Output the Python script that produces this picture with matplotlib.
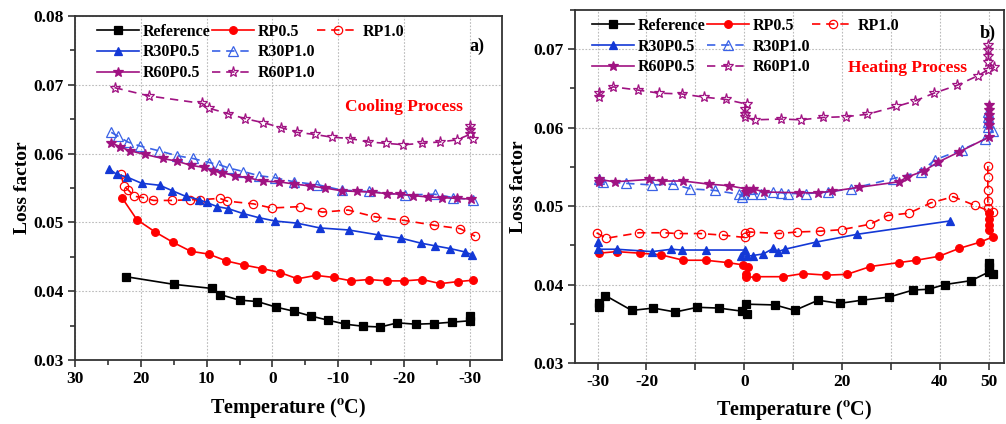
import matplotlib
matplotlib.use("Agg")
import matplotlib.pyplot as plt
from matplotlib.lines import Line2D
from matplotlib.ticker import MultipleLocator

# ---- data: cooling process (panel a) ----
cool_ref_T = [22.2, 15.0, 9.2, 7.9, 5.0, 2.3, -0.5, -3.2, -5.8, -8.4, -11.1, -13.8, -16.4, -19.0, -21.8, -24.6, -27.3, -30.0, -30.0]
cool_ref = [0.0421, 0.0410, 0.0404, 0.0395, 0.0387, 0.0385, 0.0377, 0.0371, 0.0364, 0.0358, 0.0352, 0.0349, 0.0348, 0.0354, 0.0352, 0.0353, 0.0355, 0.0357, 0.0364]

cool_rp05_T = [22.8, 20.6, 17.8, 15.1, 12.4, 9.7, 7.0, 4.3, 1.6, -1.2, -3.8, -6.6, -9.3, -12.0, -14.7, -17.4, -20.0, -22.8, -25.5, -28.2, -30.5]
cool_rp05 = [0.0535, 0.0504, 0.0486, 0.0471, 0.0458, 0.0454, 0.0444, 0.0438, 0.0433, 0.0427, 0.0418, 0.0423, 0.0420, 0.0415, 0.0417, 0.0415, 0.0415, 0.0417, 0.0411, 0.0414, 0.0416]

cool_rp10_T = [23.0, 22.6, 21.9, 21.0, 19.6, 18.1, 15.2, 12.5, 11.0, 8.0, 6.9, 2.9, 0.1, -4.2, -7.6, -11.5, -15.6, -20.0, -24.5, -28.5, -30.8]
cool_rp10 = [0.0570, 0.0553, 0.0547, 0.0538, 0.0536, 0.0532, 0.0532, 0.0533, 0.0533, 0.0535, 0.0531, 0.0527, 0.0521, 0.0523, 0.0515, 0.0518, 0.0508, 0.0503, 0.0496, 0.0491, 0.0480]

cool_r30p05_T = [24.8, 23.7, 22.1, 19.9, 17.1, 15.2, 13.2, 11.1, 10.0, 8.4, 6.7, 4.5, 2.1, -0.4, -3.7, -7.2, -11.6, -16.0, -19.6, -22.5, -24.7, -27.0, -29.3, -30.3]
cool_r30p05 = [0.0578, 0.0570, 0.0566, 0.0557, 0.0554, 0.0546, 0.0538, 0.0533, 0.0529, 0.0523, 0.0520, 0.0513, 0.0507, 0.0502, 0.0499, 0.0492, 0.0489, 0.0482, 0.0477, 0.0470, 0.0466, 0.0462, 0.0457, 0.0453]

cool_r30p10_T = [24.5, 23.4, 22.0, 20.1, 17.2, 14.5, 12.1, 9.6, 8.1, 6.6, 4.4, 2.1, -0.4, -3.3, -6.8, -10.5, -14.6, -20.2, -24.7, -27.5, -30.5]
cool_r30p10 = [0.0631, 0.0625, 0.0617, 0.0611, 0.0604, 0.0597, 0.0593, 0.0587, 0.0584, 0.0579, 0.0574, 0.0568, 0.0565, 0.0559, 0.0555, 0.0547, 0.0545, 0.0540, 0.0541, 0.0536, 0.0533]

cool_r60p05_T = [24.5, 23.2, 21.6, 19.4, 16.7, 14.5, 12.4, 10.4, 9.1, 7.6, 5.7, 3.7, 1.5, -1.0, -3.2, -5.7, -8.0, -10.5, -12.8, -15.1, -17.4, -19.4, -21.4, -23.6, -25.7, -28.0, -30.1]
cool_r60p05 = [0.0616, 0.0610, 0.0604, 0.0599, 0.0593, 0.0589, 0.0583, 0.0580, 0.0575, 0.0572, 0.0568, 0.0565, 0.0560, 0.0559, 0.0556, 0.0553, 0.0550, 0.0546, 0.0545, 0.0544, 0.0542, 0.0541, 0.0539, 0.0537, 0.0536, 0.0535, 0.0534]

cool_r60p10_T = [24.0, 18.8, 10.7, 9.6, 6.7, 4.2, 1.4, -1.3, -3.7, -6.4, -9.0, -11.8, -14.5, -17.3, -19.9, -22.7, -25.4, -28.0, -30.0, -30.0, -30.0, -30.5]
cool_r60p10 = [0.0696, 0.0684, 0.0673, 0.0666, 0.0658, 0.0651, 0.0645, 0.0638, 0.0631, 0.0628, 0.0624, 0.0622, 0.0617, 0.0615, 0.0613, 0.0615, 0.0617, 0.0620, 0.0628, 0.0634, 0.0640, 0.0622]

# ---- data: heating process (panel b) ----
heat_ref_T = [-29.7, -29.7, -28.4, -23.0, -18.6, -14.1, -9.6, -5.2, -0.4, 0.5, 0.3, 6.3, 10.3, 15.1, 19.5, 24.0, 29.6, 34.5, 37.7, 41.0, 46.4, 50.0, 50.0, 50.0, 50.9]
heat_ref = [0.0371, 0.0376, 0.0386, 0.0367, 0.0370, 0.0365, 0.0371, 0.0370, 0.0366, 0.0363, 0.0375, 0.0374, 0.0367, 0.0380, 0.0376, 0.0380, 0.0384, 0.0393, 0.0394, 0.0400, 0.0405, 0.0416, 0.0422, 0.0427, 0.0414]

heat_rp05_T = [-29.7, -26.1, -21.4, -17.1, -12.5, -7.9, -3.4, -0.2, 0.8, 0.3, 0.3, 2.5, 8.0, 12.0, 16.8, 21.0, 25.8, 31.6, 35.2, 39.8, 43.9, 48.2, 50.9, 50.0, 50.0, 50.0, 50.0]
heat_rp05 = [0.0440, 0.0442, 0.0440, 0.0438, 0.0431, 0.0431, 0.0428, 0.0425, 0.0422, 0.0413, 0.0409, 0.0410, 0.0410, 0.0414, 0.0412, 0.0413, 0.0423, 0.0428, 0.0431, 0.0436, 0.0446, 0.0454, 0.0461, 0.0469, 0.0476, 0.0484, 0.0491]

heat_rp10_T = [-30.2, -28.2, -21.5, -16.4, -13.6, -8.9, -4.4, 0.1, 0.1, 1.1, 7.1, 10.8, 15.5, 19.9, 25.8, 29.3, 33.7, 38.1, 42.7, 47.1, 50.9, 49.8, 49.8, 49.8, 49.8, 49.8]
heat_rp10 = [0.0466, 0.0459, 0.0466, 0.0466, 0.0465, 0.0465, 0.0463, 0.0460, 0.0466, 0.0467, 0.0465, 0.0467, 0.0468, 0.0470, 0.0477, 0.0488, 0.0491, 0.0504, 0.0512, 0.0501, 0.0492, 0.0497, 0.0506, 0.0520, 0.0537, 0.0551]

heat_r30p05_T = [-30.0, -30.0, -26.1, -18.8, -14.9, -12.8, -7.9, 0.1, -0.6, 0.5, 1.7, 3.9, 5.9, 6.9, 8.3, 14.6, 23.0, 42.0]
heat_r30p05 = [0.0454, 0.0445, 0.0445, 0.0442, 0.0445, 0.0444, 0.0444, 0.0444, 0.0437, 0.0436, 0.0437, 0.0439, 0.0446, 0.0442, 0.0445, 0.0454, 0.0464, 0.0481]

heat_r30p10_T = [-29.7, -28.9, -24.2, -18.8, -14.5, -11.0, -6.0, -1.0, -0.5, -0.2, 1.6, 3.5, 5.9, 7.6, 9.0, 12.7, 17.1, 21.8, 30.4, 36.1, 39.0, 44.5, 49.2, 50.8, 49.8, 49.8, 49.8, 49.8]
heat_r30p10 = [0.0535, 0.0531, 0.0529, 0.0527, 0.0528, 0.0522, 0.0520, 0.0515, 0.0512, 0.0516, 0.0515, 0.0516, 0.0518, 0.0517, 0.0516, 0.0516, 0.0518, 0.0522, 0.0535, 0.0544, 0.0559, 0.0572, 0.0585, 0.0596, 0.0601, 0.0607, 0.0614, 0.0620]

heat_r60p05_T = [-29.7, -29.7, -26.5, -19.5, -16.8, -12.5, -7.2, -3.1, 0.3, 0.3, 1.8, 4.1, 11.2, 15.1, 18.0, 23.5, 31.6, 33.3, 36.8, 39.6, 43.9, 50.0, 50.0, 50.0, 50.0, 50.0, 50.0]
heat_r60p05 = [0.0531, 0.0534, 0.0531, 0.0534, 0.0532, 0.0532, 0.0528, 0.0526, 0.0522, 0.0518, 0.0522, 0.0518, 0.0517, 0.0517, 0.0519, 0.0524, 0.0531, 0.0537, 0.0545, 0.0556, 0.0569, 0.0588, 0.0603, 0.0610, 0.0616, 0.0622, 0.0629]

heat_r60p10_T = [-29.7, -29.7, -26.8, -21.8, -17.4, -12.8, -8.3, -3.8, 0.5, 0.1, 0.1, 0.1, 2.2, 7.6, 11.6, 16.1, 20.7, 25.1, 31.1, 34.9, 38.8, 43.5, 47.7, 49.9, 51.1, 49.9, 49.9, 49.9, 49.9]
heat_r60p10 = [0.0639, 0.0644, 0.0652, 0.0648, 0.0644, 0.0643, 0.0639, 0.0636, 0.0630, 0.0624, 0.0618, 0.0613, 0.0610, 0.0611, 0.0610, 0.0613, 0.0614, 0.0617, 0.0627, 0.0634, 0.0644, 0.0654, 0.0666, 0.0674, 0.0677, 0.0684, 0.0692, 0.0699, 0.0705]

names = ["Reference", "RP0.5", "RP1.0", "R30P0.5", "R30P1.0", "R60P0.5", "R60P1.0"]

plt.rcParams['font.family'] = ['Liberation Serif', 'DejaVu Serif']
plt.rcParams['font.weight'] = 'bold'
plt.rcParams['mathtext.fontset'] = 'stix'

BLACK = 'black'
RED = '#ff0000'
BLUE = '#1338d6'
BLUE_OPEN = '#3a62e6'
PURPLE = '#a01282'
DASH = (0, (5, 3.5))

# style for each series: color, marker, filled, linestyle
styles = {
    "Reference": dict(color=BLACK, marker='s', ms=5.2, mfc=BLACK, ls='-'),
    "RP0.5": dict(color=RED, marker='o', ms=5.5, mfc=RED, ls='-'),
    "RP1.0": dict(color=RED, marker='o', ms=6.0, mfc='none', ls=DASH),
    "R30P0.5": dict(color=BLUE, marker='^', ms=6.0, mfc=BLUE, ls='-'),
    "R30P1.0": dict(color=BLUE_OPEN, marker='^', ms=7.0, mfc='none', ls=DASH),
    "R60P0.5": dict(color=PURPLE, marker='*', ms=7.5, mfc=PURPLE, ls='-'),
    "R60P1.0": dict(color=PURPLE, marker='*', ms=8.0, mfc='none', ls=DASH),
}

fig = plt.figure(figsize=(10.06, 4.24), dpi=100)
ax1 = fig.add_axes([0.0746, 0.151, 0.4245, 0.811])
ax2 = fig.add_axes([0.5716, 0.1439, 0.4264, 0.8325])

cool = [(cool_ref_T, cool_ref), (cool_rp05_T, cool_rp05), (cool_rp10_T, cool_rp10),
        (cool_r30p05_T, cool_r30p05), (cool_r30p10_T, cool_r30p10),
        (cool_r60p05_T, cool_r60p05), (cool_r60p10_T, cool_r60p10)]
heat = [(heat_ref_T, heat_ref), (heat_rp05_T, heat_rp05), (heat_rp10_T, heat_rp10),
        (heat_r30p05_T, heat_r30p05), (heat_r30p10_T, heat_r30p10),
        (heat_r60p05_T, heat_r60p05), (heat_r60p10_T, heat_r60p10)]


def draw(ax, sets):
    handles = {}
    for name, (t, v) in zip(names, sets):
        s = styles[name]
        h, = ax.plot(t, v, color=s['color'], linestyle=s['ls'], linewidth=1.2,
                     marker=s['marker'], markersize=s['ms'], markerfacecolor=s['mfc'],
                     markeredgecolor=s['color'], markeredgewidth=0.9, label=name, zorder=3)
        handles[name] = h
    return handles


def style_axes(ax):
    for sp in ax.spines.values():
        sp.set_linewidth(1.3)
        sp.set_color('#333333')
    ax.tick_params(which='both', direction='out', width=1.2, color='#333333',
                   labelsize=12.5, pad=3)
    ax.tick_params(which='major', length=5)
    ax.tick_params(which='minor', length=3.5)
    ax.yaxis.set_major_locator(MultipleLocator(0.01))
    ax.yaxis.set_minor_locator(MultipleLocator(0.005))
    ax.yaxis.set_major_formatter(matplotlib.ticker.FormatStrFormatter('%.2f'))
    ax.grid(True, which='major', linestyle=(0, (1.5, 1.5)), color='#bbbbbb', linewidth=0.8, zorder=0)
    ax.set_axisbelow(True)
    ax.set_ylabel('Loss factor', fontsize=14, fontweight='bold')
    ax.set_xlabel(r'Temperature ($^{\mathbf{o}}$C)', fontsize=14.5, fontweight='bold')


def add_legend(ax, h, anchor):
    blank = Line2D([], [], linestyle='none', marker='none')
    order = [h["Reference"], h["R30P0.5"], h["R60P0.5"],
             h["RP0.5"], h["R30P1.0"], h["R60P1.0"],
             h["RP1.0"], blank, blank]
    labels = ["Reference", "R30P0.5", "R60P0.5", "RP0.5", "R30P1.0", "R60P1.0", "RP1.0", "", ""]
    ax.legend(order, labels, ncol=3, loc='upper left', bbox_to_anchor=anchor,
              frameon=False, fontsize=11.5, handlelength=2.6, handletextpad=0.25,
              columnspacing=0.1, labelspacing=0.3, borderpad=0, borderaxespad=0)


# panel a) cooling
h1 = draw(ax1, cool)
style_axes(ax1)
ax1.set_xlim(30, -34.9)
ax1.set_ylim(0.03, 0.08)
ax1.set_xticks([30, 20, 10, 0, -10, -20, -30])
ax1.set_xticklabels(['30', '20', '10', '0', '-10', '-20', '-30'])
ax1.xaxis.set_minor_locator(MultipleLocator(5))
ax1.xaxis.set_label_coords(0.50, -0.105)
ax1.yaxis.set_label_coords(-0.102, 0.5)
add_legend(ax1, h1, (0.052, 0.978))
ax1.text(0.94, 0.913, 'a)', transform=ax1.transAxes, fontsize=13, fontweight='bold',
         ha='center', va='center')
ax1.text(0.77, 0.735, 'Cooling Process', transform=ax1.transAxes, fontsize=12.5,
         fontweight='bold', color=RED, ha='center', va='center')

# panel b) heating
h2 = draw(ax2, heat)
style_axes(ax2)
ax2.set_xlim(-34.6, 53.1)
ax2.set_ylim(0.03, 0.075)
ax2.set_xticks([-30, -20, -10, 0, 10, 20, 30, 40, 50])
ax2.set_xticklabels(['-30', '-20', '', '0', '', '20', '', '40', '50'])
ax2.xaxis.set_label_coords(0.51, -0.10)
ax2.yaxis.set_label_coords(-0.112, 0.5)
add_legend(ax2, h2, (0.04, 0.978))
ax2.text(0.963, 0.935, 'b)', transform=ax2.transAxes, fontsize=13, fontweight='bold',
         ha='center', va='center')
ax2.text(0.775, 0.835, 'Heating Process', transform=ax2.transAxes, fontsize=12.5,
         fontweight='bold', color=RED, ha='center', va='center')

fig.savefig('out.png', dpi=100)
